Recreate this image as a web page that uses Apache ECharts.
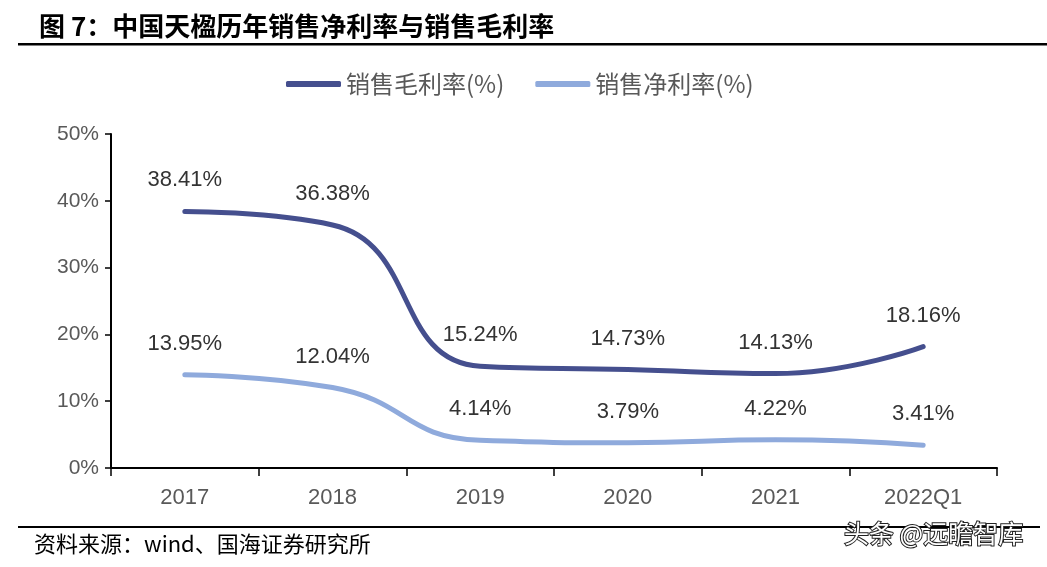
<!DOCTYPE html>
<html><head><meta charset="utf-8">
<script src="https://cdn.jsdelivr.net/npm/echarts@6/dist/echarts.min.js"></script>
<style>html,body{margin:0;padding:0;background:#fff}#c{width:1047px;height:567px}</style>
</head><body><div id="c"></div>
<script>
const categories = ['2017','2018','2019','2020','2021','2022Q1'];
const grossMargin = [38.41, 36.38, 15.24, 14.73, 14.13, 18.16];
const netMargin = [13.95, 12.04, 4.14, 3.79, 4.22, 3.41];
const seriesNames = ['销售毛利率(%)', '销售净利率(%)'];
const yTicks = [0, 10, 20, 30, 40, 50];
const colors = ['#454F8E', '#8FAADC'];

const chart = echarts.init(document.getElementById('c'));
const numFont = 'Arial, "Liberation Sans", sans-serif';
const cjkFont = '"Noto Sans CJK SC", sans-serif';
const lbl = {show:true, position:'top', distance:19, color:'#333', fontSize:22, fontFamily:numFont,
  formatter: p => p.value.toFixed(2) + '%'};
chart.setOption({
  animation:false,
  title:{text:'图 7：中国天楹历年销售净利率与销售毛利率', left:34, top:8,
    textStyle:{fontSize:26, fontWeight:'bold', color:'#000', fontFamily:cjkFont}},
  legend:{top:67, left:281, itemWidth:55, itemHeight:6, itemGap:31,
    textStyle:{fontSize:24, color:'#595959', fontFamily:cjkFont},
    data:seriesNames.map((n,i)=>({name:n, icon:'roundRect', itemStyle:{color:colors[i], opacity:1}}))},
  grid:{left:111, right:50, top:134, bottom:99},
  xAxis:{type:'category', data:categories, boundaryGap:true,
    axisLine:{lineStyle:{color:'#000', width:2}},
    axisTick:{show:true, length:8, lineStyle:{color:'#000', width:1.5}},
    axisLabel:{fontSize:22, color:'#595959', fontFamily:numFont, margin:19}},
  yAxis:{type:'value', min:yTicks[0], max:yTicks[yTicks.length-1], interval:10,
    axisLine:{show:true, lineStyle:{color:'#000', width:2}},
    axisTick:{show:true, length:6, lineStyle:{color:'#000', width:1.5}},
    splitLine:{show:false},
    axisLabel:{fontSize:21, color:'#595959', fontFamily:numFont, margin:12, formatter:'{value}%'}},
  series:[
    {name:seriesNames[0], type:'line', data:grossMargin, smooth:0.5, showSymbol:true, symbol:'circle', symbolSize:2,
     lineStyle:{color:colors[0], width:5, cap:'round'}, itemStyle:{color:colors[0]}, label:lbl},
    {name:seriesNames[1], type:'line', data:netMargin, smooth:0.5, showSymbol:true, symbol:'circle', symbolSize:2,
     lineStyle:{color:colors[1], width:5, cap:'round'}, itemStyle:{color:colors[1]}, label:lbl}
  ],
  graphic:[
    {type:'rect', shape:{x:18, y:43, width:1029, height:2.5}, style:{fill:'#000'}},
    {type:'rect', shape:{x:18, y:526, width:1022, height:2}, style:{fill:'#000'}},
    {type:'text', left:34, top:533, style:{text:'资料来源：wind、国海证券研究所', fontSize:22, fill:'#000', fontFamily:cjkFont}},
    {type:'text', left:843, top:520, style:{text:'头条 @远瞻智库', fontSize:25, fill:'#fff', stroke:'#222', lineWidth:2, fontFamily:cjkFont}}
  ]
});
</script></body></html>
